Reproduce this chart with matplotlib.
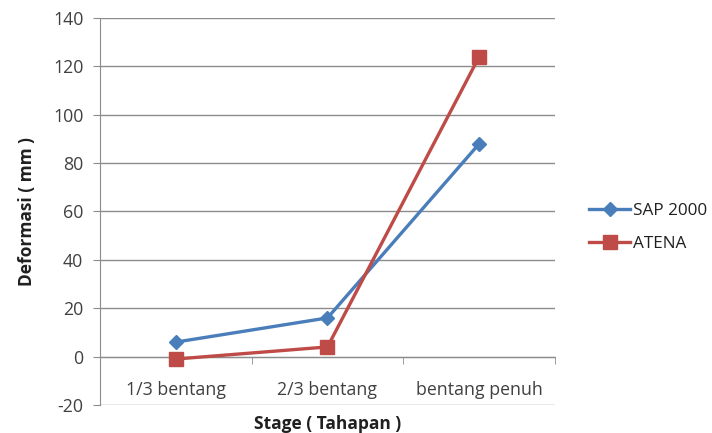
import matplotlib
matplotlib.use("Agg")
import matplotlib.pyplot as plt

plt.rcParams['font.family'] = ['Open Sans', 'DejaVu Sans']
plt.rcParams['axes.unicode_minus'] = False

stages = ["1/3 bentang", "2/3 bentang", "bentang penuh"]
sap2000 = [6, 16, 88]
atena = [-1, 4, 124]
yticks = [-20, 0, 20, 40, 60, 80, 100, 120, 140]

blue = "#4A7EBB"
red = "#BE4B48"
grid_c = "#8C8C8C"

fig = plt.figure(figsize=(7.12, 4.33), dpi=100)
ax = fig.add_axes([0.1404, 0.0647, 0.6391, 0.8937])

x = list(range(len(stages)))
ax.plot(x, sap2000, color=blue, lw=2.4, marker="D", ms=7,
        label="SAP 2000", zorder=3)
ax.plot(x, atena, color=red, lw=2.4, marker="s", ms=9.5,
        label="ATENA", zorder=3)

ax.set_xlim(-0.5, 2.5)
ax.set_ylim(-20, 140)
ax.set_yticks(yticks)
ax.yaxis.grid(True, color=grid_c, lw=1)
ax.set_axisbelow(True)

# category axis crosses at zero
for s in ("top", "right"):
    ax.spines[s].set_visible(False)
ax.spines["bottom"].set_position(("data", 0))
ax.spines["bottom"].set_color(grid_c)
ax.spines["left"].set_color(grid_c)
ax.set_xticks(x)
ax.set_xticklabels(stages)
ax.set_xticks([0.5, 1.5, 2.5], minor=True)
ax.tick_params(axis="x", which="major", length=0, pad=17.5, labelsize=12.8,
               labelcolor="#404040")
ax.tick_params(axis="x", which="minor", length=5, color=grid_c)
ax.tick_params(axis="y", length=5, color=grid_c, labelsize=12.8,
               labelcolor="#404040", pad=7)

ax.set_xlabel("Stage ( Tahapan )", fontsize=12.5, fontweight="bold",
              color="#202020", va="center")
ax.xaxis.set_label_coords(0.5, -0.05)
ax.set_ylabel("Deformasi ( mm )", fontsize=12.5, fontweight="bold",
              color="#202020", va="center")
ax.yaxis.set_label_coords(-0.16, 0.5)

fig.legend(loc="center left", bbox_to_anchor=(0.806, 0.475), frameon=False,
           fontsize=12.3, handlelength=2.4, handletextpad=0.15,
           labelspacing=1.0, labelcolor="#202020")

fig.savefig("out.png", dpi=100)
